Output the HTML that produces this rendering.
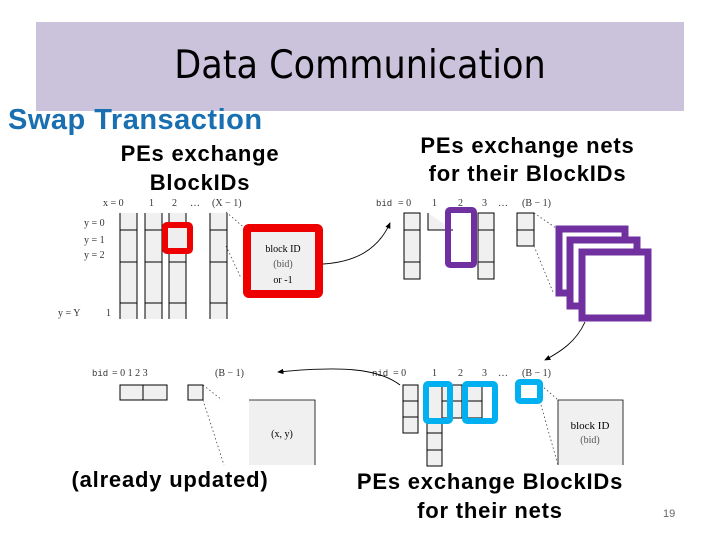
<!DOCTYPE html>
<html><head><meta charset="utf-8"><style>
body{margin:0;width:720px;height:540px;background:#fff;overflow:hidden;position:relative;font-family:"Liberation Sans",sans-serif}
.t{position:absolute;text-align:center;color:#000;font-weight:bold;letter-spacing:0.8px;font-size:22px}
</style></head><body>
<div style="position:absolute;left:36px;top:22px;width:648px;height:89px;background:#cbc3dc"></div>
<div style="position:absolute;left:36px;width:648px;top:43px;text-align:center;font-size:39px;font-family:'DejaVu Sans Condensed','Liberation Sans',sans-serif;font-stretch:condensed">Data Communication</div>
<div style="position:absolute;left:8px;top:104px;font-size:29px;font-weight:bold;color:#1a6fb0;letter-spacing:0.5px">Swap Transaction</div>
<div class="t" style="left:80px;width:240px;top:139px;line-height:29px">PEs exchange<br>BlockIDs</div>
<div class="t" style="left:380px;width:295px;top:132px;line-height:28px">PEs exchange nets<br>for their BlockIDs</div>
<div class="t" style="left:40px;width:260px;top:467px">(already updated)</div>
<div class="t" style="left:320px;width:340px;top:467px;line-height:29px">PEs exchange BlockIDs<br>for their nets</div>
<div style="position:absolute;left:663px;top:508px;font-size:11px;color:#666">19</div>
<svg width="720" height="540" style="position:absolute;left:0;top:0" font-family="Liberation Serif,serif">
<defs><marker id="a" markerWidth="8" markerHeight="8" refX="6" refY="3" orient="auto"><path d="M0,0L7,3L0,6z" fill="#000"/></marker></defs>
<g font-size="10" fill="#333">
<text x="103" y="206">x = 0</text><text x="149" y="206">1</text><text x="172" y="206">2</text><text x="190" y="206">…</text><text x="212" y="206">(X − 1)</text>
<text x="84" y="226">y = 0</text><text x="84" y="243">y = 1</text><text x="84" y="258">y = 2</text><text x="58" y="316">y = Y</text><text x="106" y="316">1</text>
<text x="376" y="206" font-family="Liberation Mono" font-size="9">bid</text><text x="398" y="206">= 0</text><text x="432" y="206">1</text><text x="458" y="206">2</text><text x="482" y="206">3</text><text x="498" y="206">…</text><text x="522" y="206">(B − 1)</text>
<text x="92" y="376" font-family="Liberation Mono" font-size="9">bid</text><text x="112" y="376">= 0  1  2  3</text><text x="215" y="376">(B − 1)</text>
<text x="372" y="376" font-family="Liberation Mono" font-size="9">nid</text><text x="393" y="376">= 0</text><text x="432" y="376">1</text><text x="458" y="376">2</text><text x="482" y="376">3</text><text x="498" y="376">…</text><text x="522" y="376">(B − 1)</text>
</g>
<g fill="#f0f0f0" stroke="#000" stroke-width="1">
<rect x="120" y="213" width="17" height="106" stroke="none"/><rect x="145" y="213" width="17" height="106" stroke="none"/><rect x="169" y="213" width="17" height="106" stroke="none"/><rect x="210" y="213" width="17" height="106" stroke="none"/>
<path d="M120,230H137M145,230H162M169,230H186M210,230H227M120,262H137M145,262H162M169,262H186M210,262H227M120,303H137M145,303H162M169,303H186M210,303H227M120,213V319M137,213V319M145,213V319M162,213V319M169,213V319M186,213V319M210,213V319M227,213V319" fill="none"/>
<rect x="404" y="213" width="16" height="66"/><path d="M404,230H420M404,262H420" fill="none"/>
<path d="M428,213V230H453" /><rect x="478" y="213" width="16" height="66"/><path d="M478,230H494M478,262H494" fill="none"/>
<rect x="517" y="213" width="17" height="33"/><path d="M517,230H534" fill="none"/>
<rect x="120" y="385" width="47" height="15"/><path d="M143,385V400" fill="none"/><rect x="188" y="385" width="15" height="15"/>
<rect x="403" y="385" width="15" height="48"/><path d="M403,401H418M403,417H418" fill="none"/>
<rect x="427" y="385" width="15" height="81"/><path d="M427,433H442M427,450H442" fill="none"/>
<rect x="442" y="385" width="40" height="33"/><path d="M442,401H482M462,385V418" fill="none"/>
</g>
<rect x="249" y="400" width="66" height="65" fill="#f0f0f0"/><path d="M249,400H315V465" stroke="#000" fill="none" stroke-width="0.8"/>
<text x="282" y="437" font-size="10" text-anchor="middle">(x, y)</text>
<rect x="558" y="400" width="65" height="65" fill="#f0f0f0"/><path d="M558,465V400H623V465" stroke="#000" fill="none" stroke-width="0.8"/>
<text x="590" y="429" font-size="11" text-anchor="middle">block ID</text><text x="590" y="443" font-size="10" text-anchor="middle" fill="#555">(bid)</text>
<g stroke="#444" stroke-dasharray="1.5,2.5" fill="none" stroke-width="0.8">
<path d="M226,212L247,230M226,246L241,278"/><path d="M534,213L556,228M534,246L553,292"/><path d="M203,385L222,400M203,400L224,465"/><path d="M541,385L558,400M541,405L558,465"/>
</g>
<rect x="165" y="225" width="25" height="26" fill="#eee" stroke="#e00" stroke-width="6" rx="2"/>
<rect x="247" y="228" width="72" height="66" fill="#f0f0f0" stroke="#e00" stroke-width="8" rx="2"/>
<text x="283" y="252" font-size="10" text-anchor="middle">block ID</text><text x="283" y="267" font-size="10" text-anchor="middle" fill="#555">(bid)</text><text x="283" y="283" font-size="10" text-anchor="middle">or -1</text>
<rect x="448" y="210" width="26" height="55" fill="none" stroke="#7030a0" stroke-width="6" rx="2"/>
<rect x="559" y="229" width="66" height="64" fill="#fff" stroke="#7030a0" stroke-width="7"/>
<rect x="570" y="240" width="67" height="66" fill="#fff" stroke="#7030a0" stroke-width="7"/>
<rect x="582" y="252" width="66" height="66" fill="#fff" stroke="#7030a0" stroke-width="7"/>
<g fill="none" stroke="#00b0f0" stroke-width="6">
<rect x="426" y="384" width="24" height="37" rx="2"/><rect x="465" y="384" width="30" height="37" rx="2"/><rect x="518" y="382" width="22" height="19" rx="2"/>
</g>
<g fill="none" stroke="#000" stroke-width="0.9">
<path d="M323,264C355,262 378,250 390,223" marker-end="url(#a)"/>
<path d="M585,322C576,342 560,352 545,360" marker-end="url(#a)"/>
<path d="M400,385C378,368 340,366 278,372" marker-end="url(#a)"/>
</g>
</svg>
</body></html>
